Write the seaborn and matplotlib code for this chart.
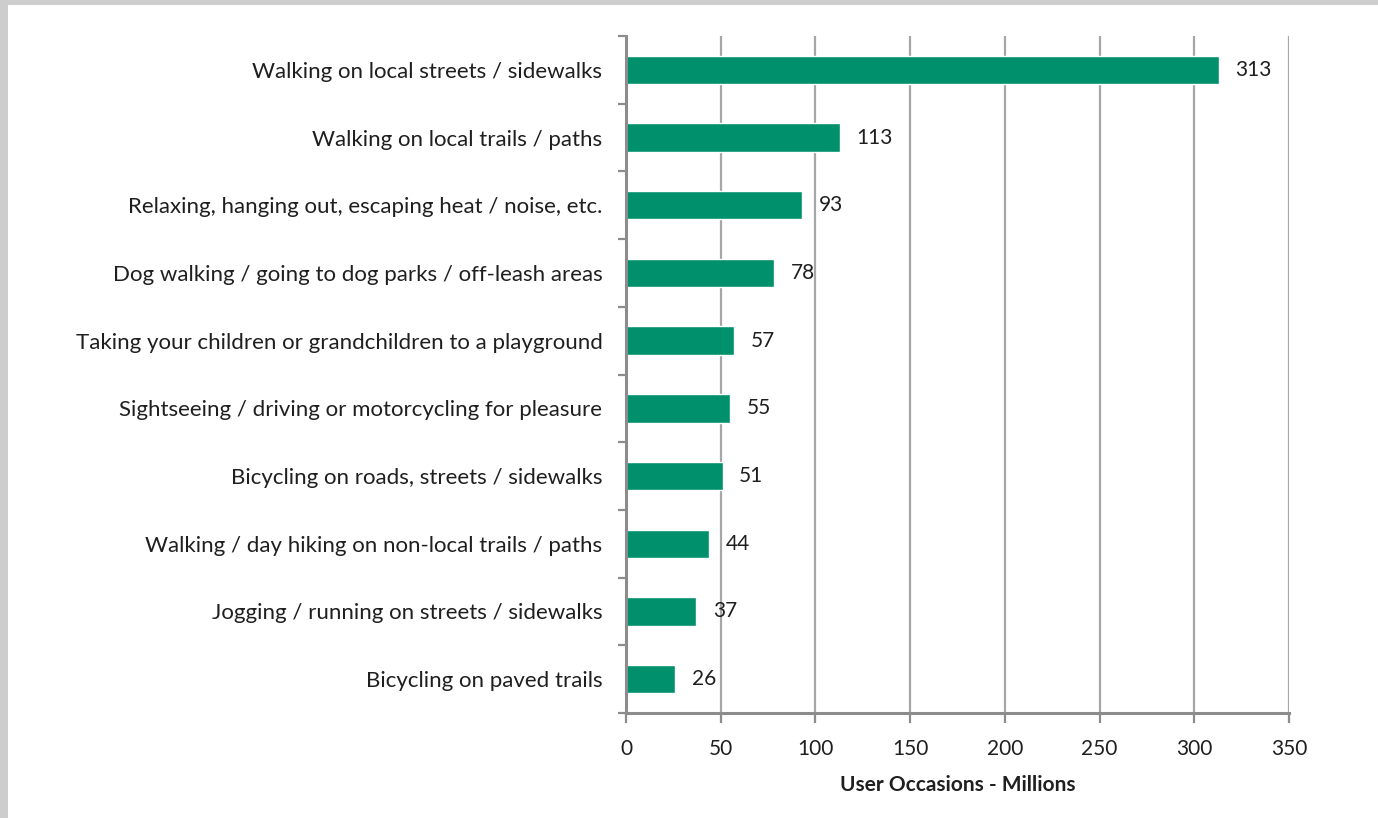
import matplotlib
matplotlib.use("Agg")
import matplotlib.pyplot as plt
from matplotlib.patches import Rectangle
from matplotlib.ticker import FixedLocator, NullFormatter
import seaborn as sns
import pandas as pd
import numpy as np

activities = [
    "Walking on local streets / sidewalks",
    "Walking on local trails / paths",
    "Relaxing, hanging out, escaping heat / noise, etc.",
    "Dog walking / going to dog parks / off-leash areas",
    "Taking your children or grandchildren to a playground",
    "Sightseeing / driving or motorcycling for pleasure",
    "Bicycling on roads, streets / sidewalks",
    "Walking / day hiking on non-local trails / paths",
    "Jogging / running on streets / sidewalks",
    "Bicycling on paved trails",
]
occasions = [313, 113, 93, 78, 57, 55, 51, 44, 37, 26]
x_ticks = [0, 50, 100, 150, 200, 250, 300, 350]

sns.set_theme(style="white")
plt.rcParams["font.family"] = ["Lato", "DejaVu Sans"]

df = pd.DataFrame({"activity": activities, "occasions": occasions})

fig = plt.figure(figsize=(13.78, 8.18), dpi=100)
fig.patch.set_facecolor("white")
# window frame strips along the top and left edges
fig.patches.append(Rectangle((0, 1 - 5 / 818), 1, 5 / 818, transform=fig.transFigure,
                             facecolor="#cdcdcd", edgecolor="none", zorder=0))
fig.patches.append(Rectangle((0, 0), 8 / 1378, 1, transform=fig.transFigure,
                             facecolor="#cdcdcd", edgecolor="none", zorder=0))

ax = fig.add_axes([626 / 1378, 1 - 713 / 818, (1289 - 626) / 1378, (713 - 36) / 818])

bar_color = "#00916c"
sns.barplot(data=df, x="occasions", y="activity", orient="h", color=bar_color,
            saturation=1, width=0.42, ax=ax, zorder=3)

ax.set_xlim(0, 350)
ax.set_ylim(len(activities) - 0.5, -0.5)

grid_color = "#a6a6a6"
ax.xaxis.set_major_locator(FixedLocator(x_ticks))
ax.grid(axis="x", color=grid_color, linewidth=1.6, zorder=0)
ax.grid(axis="y", visible=False)

for s in ["top", "right"]:
    ax.spines[s].set_visible(False)
for s in ["left", "bottom"]:
    ax.spines[s].set_color("#8c8c8c")
    ax.spines[s].set_linewidth(2.2)
    ax.spines[s].set_zorder(4)

text_color = "#1f1f1f"
# category labels at bar centres, tick marks at category boundaries
ax.yaxis.set_major_locator(FixedLocator(np.arange(-0.5, len(activities), 1.0)))
ax.yaxis.set_major_formatter(NullFormatter())
ax.yaxis.set_minor_locator(FixedLocator(np.arange(len(activities))))
ax.set_yticklabels(activities, minor=True)
ax.tick_params(axis="y", which="major", left=True, length=6, width=1.6, color="#8c8c8c")
ax.tick_params(axis="y", which="minor", left=True, length=0, pad=17,
               labelsize=16, labelcolor=text_color)
ax.tick_params(axis="x", bottom=True, length=7, width=1.6, color="#8c8c8c",
               labelsize=15, labelcolor=text_color, pad=12)

ax.set_ylabel("")
ax.set_xlabel("User Occasions - Millions", fontsize=15, fontweight="bold",
              color=text_color, labelpad=11)

for i, v in enumerate(occasions):
    ax.annotate(f"{v}", xy=(v, i), xytext=(12, 0), textcoords="offset points",
                ha="left", va="center", fontsize=15, color=text_color)

fig.savefig("out.png", dpi=100, facecolor="white")
